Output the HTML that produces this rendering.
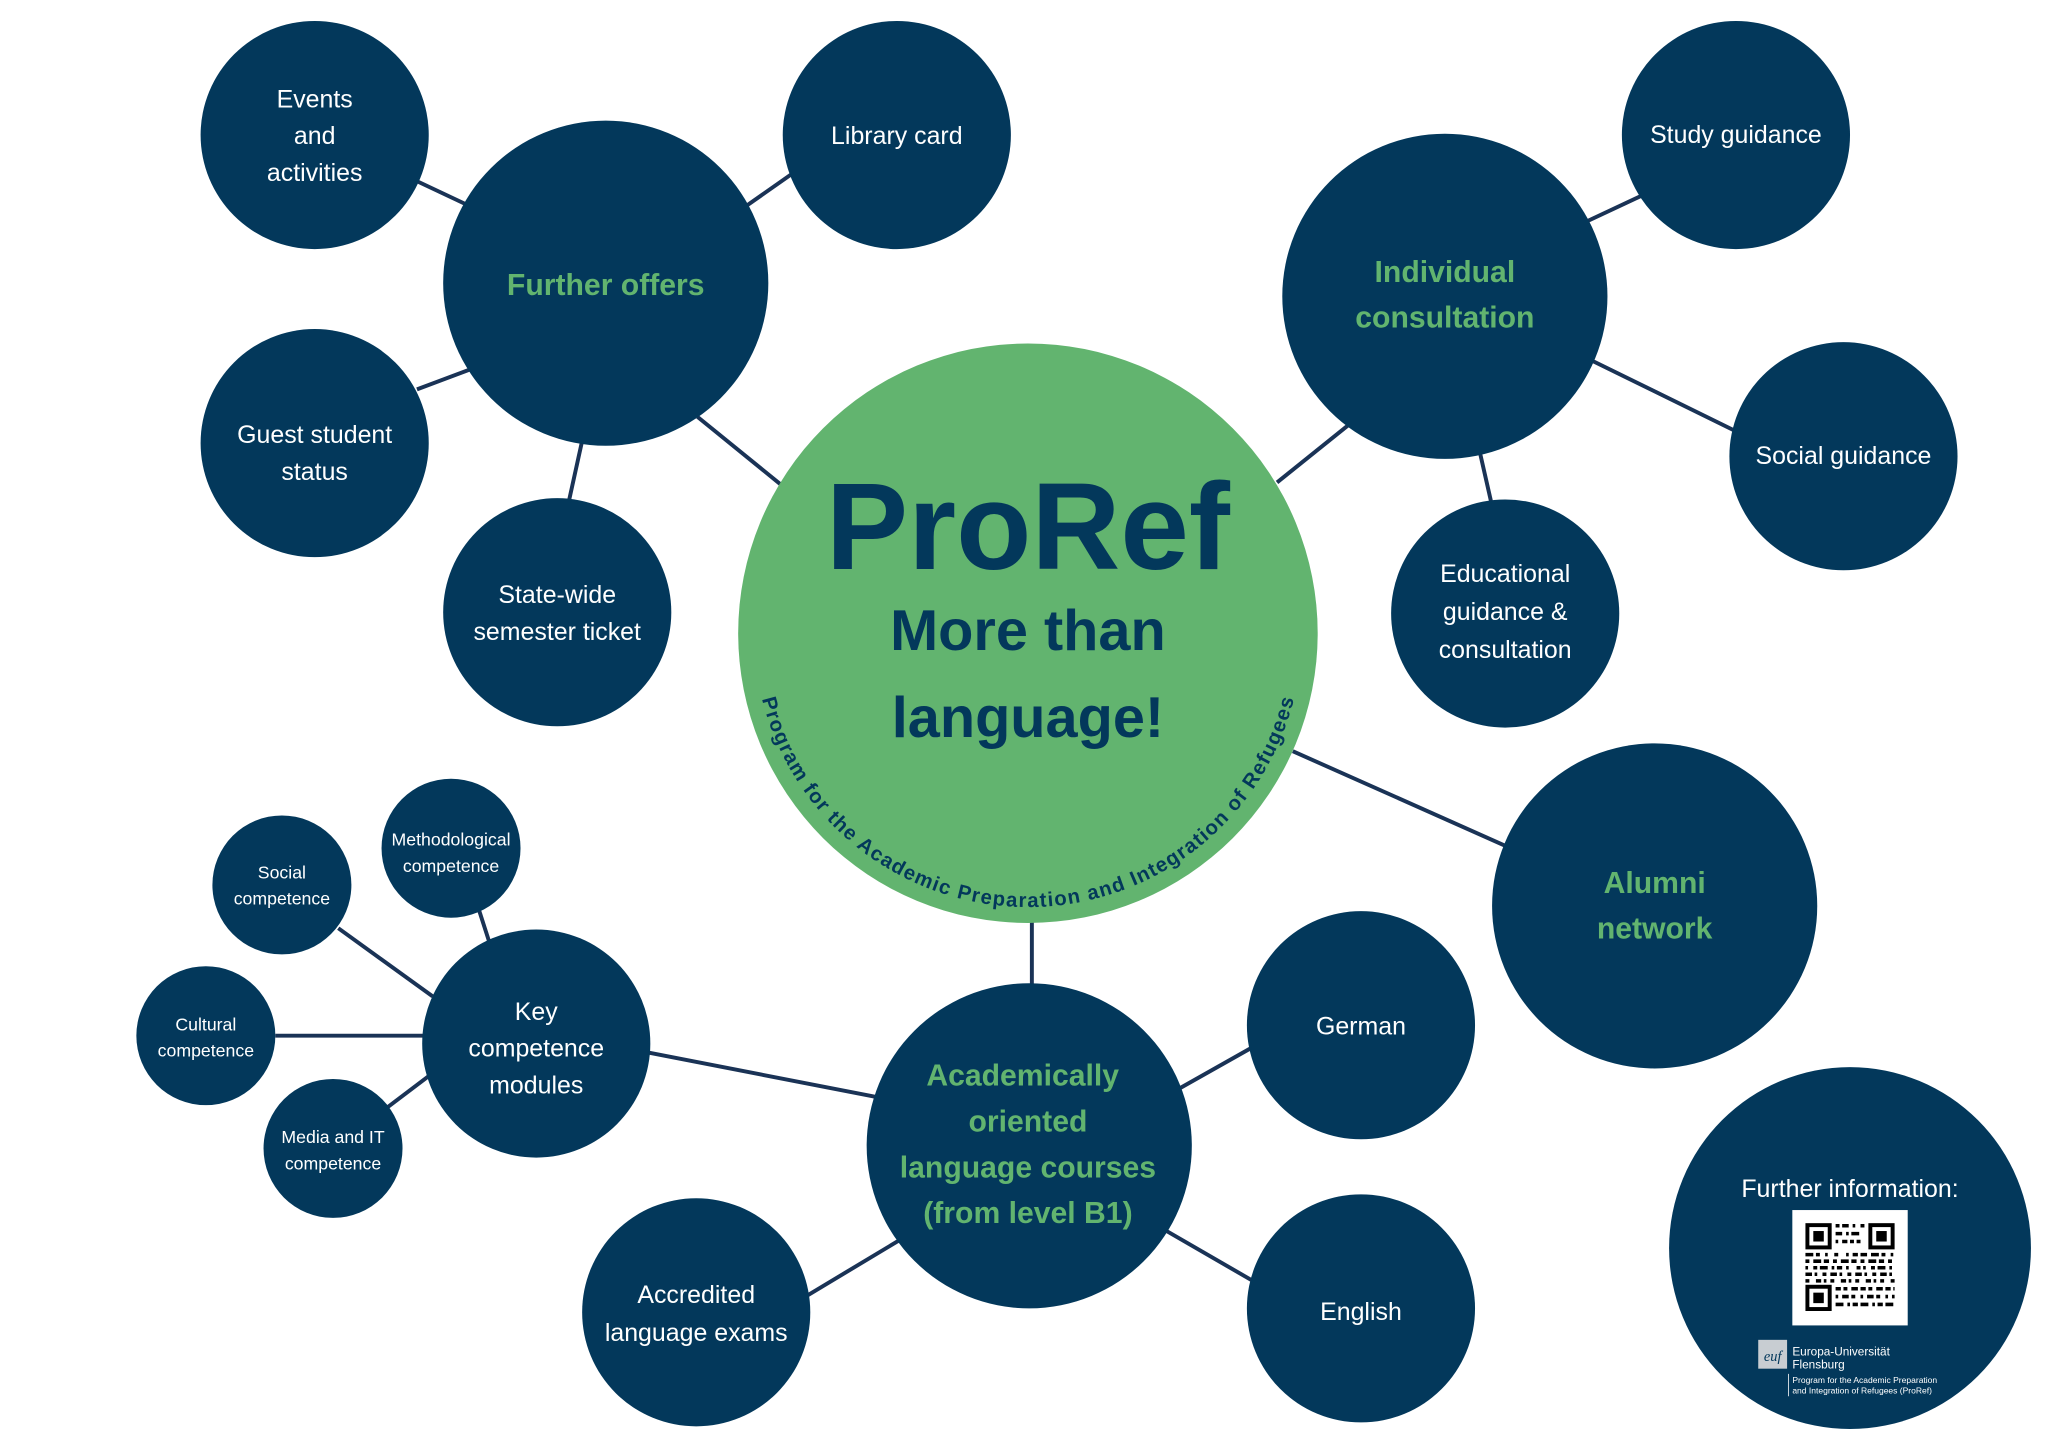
<!DOCTYPE html>
<html><head><meta charset="utf-8"><style>
html,body{margin:0;padding:0;background:#fff;}
svg{display:block;}
.n{fill:#03385b;}
.l{stroke:#1a3356;stroke-width:3;}
.t{fill:#fff;font-family:"Liberation Sans",sans-serif;font-size:19px;text-anchor:middle;}
.s{fill:#fff;font-family:"Liberation Sans",sans-serif;font-size:13.5px;text-anchor:middle;}
.g{fill:#62b46f;font-family:"Liberation Sans",sans-serif;font-size:23px;font-weight:bold;text-anchor:middle;}
</style></head><body>
<svg width="2048" height="1448" viewBox="0 0 1562 1104.5" preserveAspectRatio="none" xmlns="http://www.w3.org/2000/svg">
<rect width="1562" height="1105" fill="#fff"/>
<g class="l">
<line x1="290" y1="125" x2="360" y2="158"/>
<line x1="632" y1="113" x2="565" y2="160"/>
<line x1="318" y1="297" x2="390" y2="270"/>
<line x1="430" y1="400" x2="448" y2="318"/>
<line x1="532" y1="318" x2="596" y2="370"/>
<line x1="974" y1="368" x2="1030" y2="323"/>
<line x1="1276" y1="138" x2="1195" y2="176"/>
<line x1="1212" y1="274" x2="1322" y2="328"/>
<line x1="1128" y1="342" x2="1138" y2="386"/>
<line x1="986" y1="573" x2="1150" y2="646"/>
<line x1="787" y1="700" x2="787" y2="752"/>
<line x1="978" y1="786" x2="900" y2="830"/>
<line x1="888" y1="938" x2="978" y2="990"/>
<line x1="616" y1="988" x2="686" y2="946"/>
<line x1="495" y1="803" x2="685" y2="840"/>
<line x1="364" y1="690" x2="373" y2="718"/>
<line x1="258" y1="708" x2="330" y2="760"/>
<line x1="210" y1="790" x2="325" y2="790"/>
<line x1="295" y1="845" x2="328" y2="820"/>
</g>
<circle cx="784" cy="483" r="221" fill="#62b46f"/>
<g class="n">
<circle cx="462" cy="216" r="124"/>
<circle cx="240" cy="103" r="87"/>
<circle cx="684" cy="103" r="87"/>
<circle cx="240" cy="338" r="87"/>
<circle cx="425" cy="467" r="87"/>
<circle cx="1102" cy="226" r="124"/>
<circle cx="1324" cy="103" r="87"/>
<circle cx="1406" cy="348" r="87"/>
<circle cx="1148" cy="468" r="87"/>
<circle cx="1262" cy="691" r="124"/>
<circle cx="785" cy="874" r="124"/>
<circle cx="1038" cy="782" r="87"/>
<circle cx="1038" cy="998" r="87"/>
<circle cx="531" cy="1001" r="87"/>
<circle cx="409" cy="796" r="87"/>
<circle cx="344" cy="647" r="53"/>
<circle cx="215" cy="675" r="53"/>
<circle cx="157" cy="790" r="53"/>
<circle cx="254" cy="876" r="53"/>
<circle cx="1411" cy="952" r="138"/>
</g>
<g font-family="Liberation Sans, sans-serif" font-weight="bold" fill="#03385b" text-anchor="middle">
<text x="784" y="434" font-size="94">ProRef</text>
<text x="784" y="496" font-size="44">More than</text>
<text x="784" y="562" font-size="44">language!</text>
</g>
<defs><path id="arc" d="M 575 483 A 209 209 0 0 0 993 483"/></defs>
<text font-family="Liberation Sans, sans-serif" font-weight="bold" font-size="15.5" fill="#03385b"><textPath href="#arc" startOffset="50%" text-anchor="middle" textLength="555" lengthAdjust="spacing">Program for the Academic Preparation and Integration of Refugees</textPath></text>
<text class="g" x="462" y="225">Further offers</text>
<text class="g" x="1102" y="215">Individual</text>
<text class="g" x="1102" y="250">consultation</text>
<text class="g" x="1262" y="681">Alumni</text>
<text class="g" x="1262" y="716">network</text>
<text class="g" x="780" y="828">Academically</text>
<text class="g" x="784" y="863">oriented</text>
<text class="g" x="784" y="898">language courses</text>
<text class="g" x="784" y="933">(from level B1)</text>
<text class="t" x="240" y="82">Events</text><text class="t" x="240" y="110">and</text><text class="t" x="240" y="138">activities</text>
<text class="t" x="684" y="110">Library card</text>
<text class="t" x="240" y="338">Guest student</text><text class="t" x="240" y="366">status</text>
<text class="t" x="425" y="460">State-wide</text><text class="t" x="425" y="488">semester ticket</text>
<text class="t" x="1324" y="109">Study guidance</text>
<text class="t" x="1406" y="354">Social guidance</text>
<text class="t" x="1148" y="444">Educational</text><text class="t" x="1148" y="473">guidance &amp;</text><text class="t" x="1148" y="502">consultation</text>
<text class="t" x="1038" y="789">German</text>
<text class="t" x="1038" y="1007">English</text>
<text class="t" x="531" y="994">Accredited</text><text class="t" x="531" y="1023">language exams</text>
<text class="t" x="409" y="778">Key</text><text class="t" x="409" y="806">competence</text><text class="t" x="409" y="834">modules</text>
<text class="s" x="344" y="645">Methodological</text><text class="s" x="344" y="665">competence</text>
<text class="s" x="215" y="670">Social</text><text class="s" x="215" y="690">competence</text>
<text class="s" x="157" y="786">Cultural</text><text class="s" x="157" y="806">competence</text>
<text class="s" x="254" y="872">Media and IT</text><text class="s" x="254" y="892">competence</text>
<text class="t" x="1411" y="913" font-size="21">Further information:</text>
<rect x="1367" y="923" width="88" height="88" fill="#fff"/>
<g fill="#000">
<rect x="1377" y="933" width="20" height="20"/><rect x="1380" y="936" width="14" height="14" fill="#fff"/><rect x="1383" y="939" width="8" height="8"/>
<rect x="1425" y="933" width="20" height="20"/><rect x="1428" y="936" width="14" height="14" fill="#fff"/><rect x="1431" y="939" width="8" height="8"/>
<rect x="1377" y="980" width="20" height="20"/><rect x="1380" y="983" width="14" height="14" fill="#fff"/><rect x="1383" y="986" width="8" height="8"/>
</g>
<g stroke="#000" stroke-width="2.7">
<line x1="1400" y1="935" x2="1423" y2="935" stroke-dasharray="3 2 5 3 2 4"/>
<line x1="1400" y1="941" x2="1423" y2="941" stroke-dasharray="5 3 2 2 6"/>
<line x1="1400" y1="947" x2="1423" y2="947" stroke-dasharray="2 3 4 2 3"/>
<line x1="1377" y1="957" x2="1445" y2="957" stroke-dasharray="6 2 3 4 2 5 3"/>
<line x1="1377" y1="962" x2="1445" y2="962" stroke-dasharray="3 3 6 2 4 3"/>
<line x1="1377" y1="967" x2="1445" y2="967" stroke-dasharray="2 4 3 2 6 3 2"/>
<line x1="1377" y1="972" x2="1445" y2="972" stroke-dasharray="5 2 2 4 3 3"/>
<line x1="1377" y1="977" x2="1445" y2="977" stroke-dasharray="3 5 4 2 2 3"/>
<line x1="1400" y1="983" x2="1445" y2="983" stroke-dasharray="4 2 3 3 5 2"/>
<line x1="1400" y1="989" x2="1445" y2="989" stroke-dasharray="2 3 5 2 3 4"/>
<line x1="1400" y1="995" x2="1445" y2="995" stroke-dasharray="6 3 2 2 4 2"/>
</g>
<rect x="1341" y="1022" width="22" height="22" fill="#c8cdd2"/>
<text x="1352" y="1038" font-family="Liberation Serif, serif" font-style="italic" font-size="11" fill="#03385b" text-anchor="middle">euf</text>
<g font-family="Liberation Sans, sans-serif" fill="#fff">
<text x="1367" y="1034" font-size="9">Europa-Universität</text>
<text x="1367" y="1044" font-size="9">Flensburg</text>
<text x="1367" y="1055" font-size="6.5">Program for the Academic Preparation</text>
<text x="1367" y="1063" font-size="6.5">and Integration of Refugees (ProRef)</text>
</g>
<line x1="1364" y1="1048" x2="1364" y2="1065" stroke="#fff" stroke-width="0.6"/>
</svg>
</body></html>
